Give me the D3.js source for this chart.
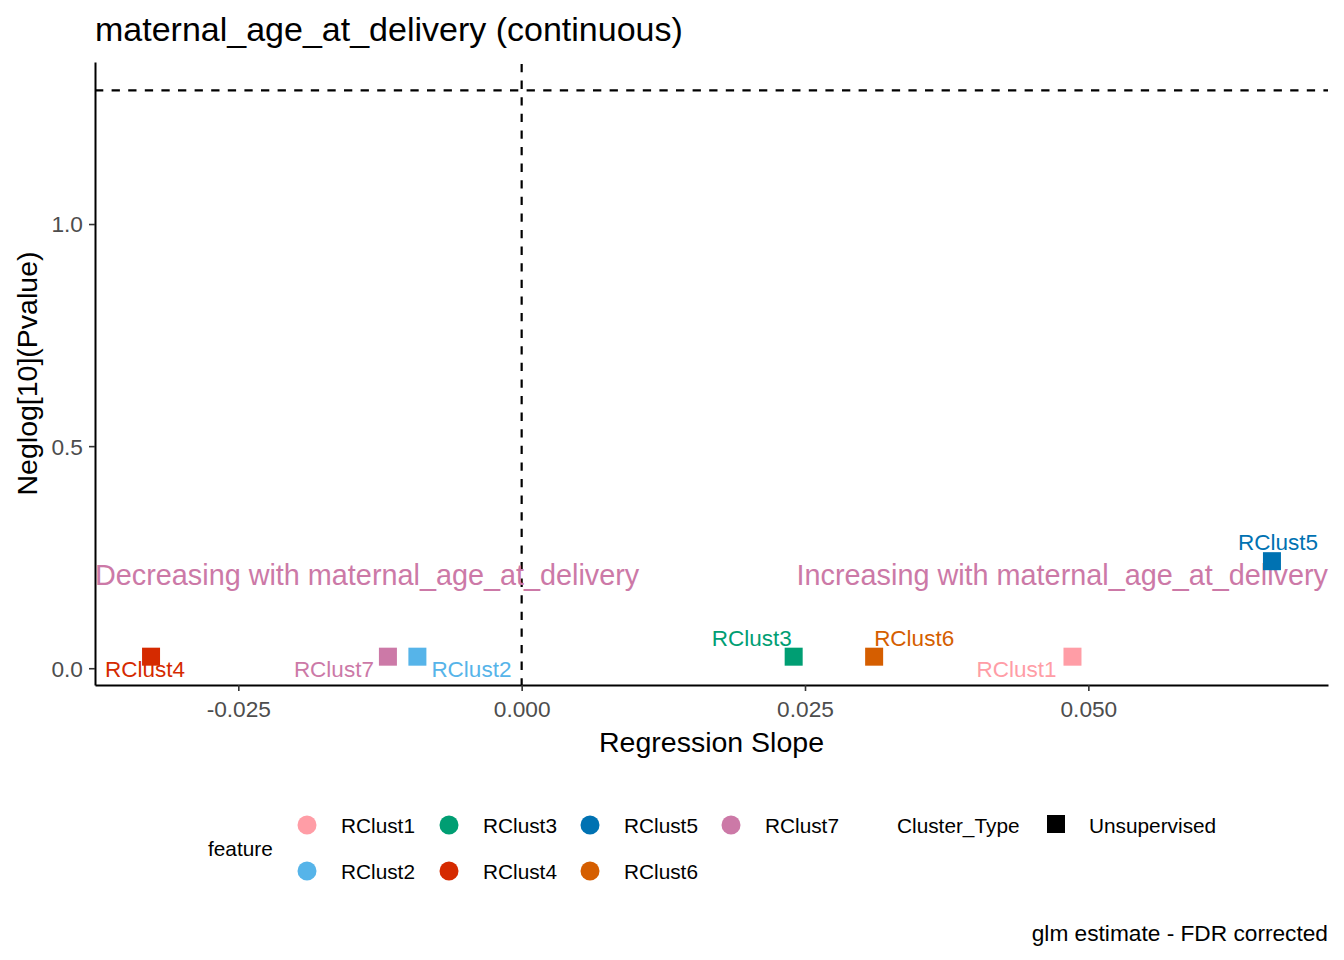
<!DOCTYPE html>
<html><head><meta charset="utf-8">
<script src="https://cdn.jsdelivr.net/npm/d3@7"></script>
<style>body{margin:0;background:#fff;} text{font-family:Arial,"Liberation Sans",sans-serif;}</style>
</head><body><svg id="chart" width="1344" height="960"></svg>
<script>
// ---- data ----
const features = ["RClust1","RClust2","RClust3","RClust4","RClust5","RClust6","RClust7"];
const slopes   = [0.0486, -0.0092, 0.0240, -0.0327, 0.0662, 0.0311, -0.0118];
const neglogP  = [0.026, 0.026, 0.026, 0.026, 0.241, 0.026, 0.026];
const colors   = ["#FF9DA6","#56B4E9","#009E73","#D52A00","#0072B2","#D55E00","#CC79A7"];
const xTicks   = [-0.025, 0.000, 0.025, 0.050];
const yTicks   = [0.0, 0.5, 1.0];
const sigLine  = -Math.log10(0.05);
// label placement (ggrepel-like): anchor and pixel nudge
const labelAnchor = ["end","start","middle","start","middle","start","end"];
const labelDx     = [-16, 14, -42, -46, 6, 0, -14];
const labelDy     = [20, 20, -11, 20, -11, -11, 20];

const svg = d3.select("#chart");
const L = 95, R = 1328, T = 62, B = 685;

function expand(ext){ const r = ext[1]-ext[0]; return [ext[0]-0.05*r, ext[1]+0.05*r]; }
const x = d3.scaleLinear().domain(expand(d3.extent(slopes.concat([0])))).range([L, R]);
const y = d3.scaleLinear().domain(expand(d3.extent(neglogP.concat([sigLine])))).range([B, T]);

// reference lines
svg.append("line").attr("x1",L).attr("x2",R).attr("y1",y(sigLine)).attr("y2",y(sigLine))
  .attr("stroke","#000").attr("stroke-width",2.2).attr("stroke-dasharray","8.3,8.3");
svg.append("line").attr("x1",x(0)).attr("x2",x(0)).attr("y1",T).attr("y2",B)
  .attr("stroke","#000").attr("stroke-width",2.2).attr("stroke-dasharray","8.3,8.3").attr("stroke-dashoffset",-2);

// axes
const xAxis = svg.append("g").attr("transform",`translate(0,${B})`)
  .call(d3.axisBottom(x).tickValues(xTicks).tickFormat(d3.format(".3f")).tickSize(6).tickSizeOuter(0));
const yAxis = svg.append("g").attr("transform",`translate(${L},0)`)
  .call(d3.axisLeft(y).tickValues(yTicks).tickFormat(d3.format(".1f")).tickSize(6).tickSizeOuter(0));
[xAxis,yAxis].forEach(g=>{
  g.select(".domain").attr("stroke","#000").attr("stroke-width",2);
  g.selectAll(".tick line").attr("stroke","#333").attr("stroke-width",1.6);
  g.selectAll(".tick text").attr("fill","#4D4D4D").style("font-size","22.7px");
});
xAxis.selectAll(".tick text").attr("dy","0.71em").attr("y",16);
yAxis.selectAll(".tick text").attr("x",-12).attr("dy","0.35em");
// hyphen-minus like R
xAxis.selectAll(".tick text").text(d=>d3.format(".3f")(d).replace("−","-"));

// annotations
svg.append("text").attr("x",L).attr("y",585).attr("fill","#CC79A7").style("font-size","28.8px")
  .text("Decreasing with maternal_age_at_delivery");
svg.append("text").attr("x",R).attr("y",585).attr("text-anchor","end").attr("fill","#CC79A7").style("font-size","28.8px")
  .text("Increasing with maternal_age_at_delivery");

// points
const sq = 18;
svg.append("g").selectAll("rect").data(features).join("rect")
  .attr("x",(d,i)=>x(slopes[i])-sq/2).attr("y",(d,i)=>y(neglogP[i])-sq/2)
  .attr("width",sq).attr("height",sq).attr("fill",(d,i)=>colors[i]);

// labels
svg.append("g").selectAll("text").data(features).join("text")
  .attr("x",(d,i)=>x(slopes[i])+labelDx[i]).attr("y",(d,i)=>y(neglogP[i])+labelDy[i])
  .attr("text-anchor",(d,i)=>labelAnchor[i]).attr("fill",(d,i)=>colors[i])
  .style("font-size","22.5px").text(d=>d);

// axis titles
svg.append("text").attr("x",(L+R)/2).attr("y",752).attr("text-anchor","middle").attr("fill","#000")
  .style("font-size","28.5px").text("Regression Slope");
svg.append("text").attr("transform",`translate(37,${(T+B)/2}) rotate(-90)`).attr("text-anchor","middle")
  .attr("fill","#000").style("font-size","28.5px").text("Neglog[10](Pvalue)");

// title & caption
svg.append("text").attr("x",L).attr("y",41).attr("fill","#000").style("font-size","34px")
  .text("maternal_age_at_delivery (continuous)");
svg.append("text").attr("x",R).attr("y",941).attr("text-anchor","end").attr("fill","#000")
  .style("font-size","22.7px").text("glm estimate - FDR corrected");

// legend
const lg = svg.append("g");
lg.append("text").attr("x",208).attr("y",856).style("font-size","20.8px").attr("fill","#000").text("feature");
const colX = [307, 449, 590, 731], rowY = [825, 871];
features.forEach((f,i)=>{
  const c = Math.floor(i/2), r = i%2;
  lg.append("circle").attr("cx",colX[c]).attr("cy",rowY[r]).attr("r",9.5).attr("fill",colors[i]);
  lg.append("text").attr("x",colX[c]+34).attr("y",rowY[r]+7.5).style("font-size","20.8px").attr("fill","#000").text(f);
});
lg.append("text").attr("x",897).attr("y",832.5).style("font-size","20.8px").attr("fill","#000").text("Cluster_Type");
lg.append("rect").attr("x",1047).attr("y",815).attr("width",18).attr("height",18).attr("fill","#000");
lg.append("text").attr("x",1089).attr("y",832.5).style("font-size","20.8px").attr("fill","#000").text("Unsupervised");
</script></body></html>
